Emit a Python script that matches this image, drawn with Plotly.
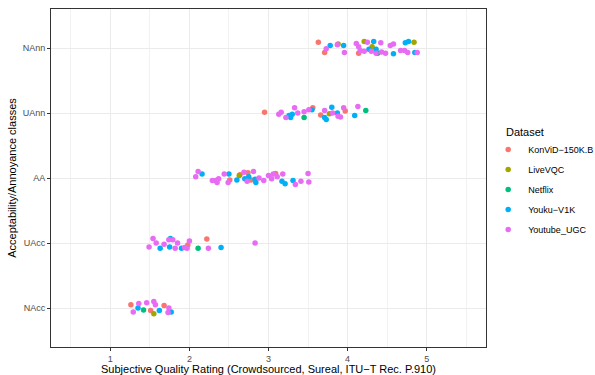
import plotly.graph_objects as go

# Category labels (bottom to top)
class_labels = ["NAcc", "UAcc", "AA", "UAnn", "NAnn"]
datasets = ["KonViD−150K.B", "LiveVQC", "Netflix", "Youku−V1K", "Youtube_UGC"]
colors = ["#F8766D", "#A3A500", "#00BF7D", "#00B0F6", "#E76BF3"]

# Each point: class label, rating, vertical jitter, dataset index
pt_class = (
    ["NAnn"] * 36 + ["UAnn"] * 29 + ["AA"] * 38 + ["UAcc"] * 21 + ["NAcc"] * 15
)
pt_rating = [
    # NAnn
    3.63, 3.71, 3.73, 3.78, 3.87, 3.88, 3.95, 3.96, 4.11, 4.14, 4.14, 4.16,
    4.21, 4.25, 4.21, 4.27, 4.31, 4.33, 4.30, 4.36, 4.36, 4.38, 4.42, 4.43,
    4.48, 4.54, 4.58, 4.58, 4.67, 4.72, 4.73, 4.77, 4.76, 4.84, 4.85, 4.88,
    # UAnn
    2.95, 3.13, 3.16, 3.22, 3.26, 3.28, 3.30, 3.33, 3.37, 3.45, 3.45, 3.51,
    3.56, 3.55, 3.66, 3.71, 3.71, 3.73, 3.77, 3.80, 3.81, 3.87, 3.88, 3.91,
    3.95, 3.97, 4.09, 4.13, 4.23,
    # AA
    2.08, 2.11, 2.16, 2.29, 2.33, 2.35, 2.37, 2.44, 2.49, 2.50, 2.51, 2.60,
    2.63, 2.64, 2.69, 2.70, 2.73, 2.74, 2.75, 2.78, 2.81, 2.84, 2.83, 2.88,
    2.94, 3.00, 3.04, 3.06, 3.09, 3.11, 3.18, 3.17, 3.21, 3.31, 3.34, 3.41,
    3.50, 3.51,
    # UAcc
    1.49, 1.54, 1.58, 1.63, 1.68, 1.74, 1.76, 1.75, 1.79, 1.82, 1.85, 1.90,
    1.94, 1.97, 1.98, 2.00, 2.11, 2.22, 2.24, 2.40, 2.83,
    # NAcc
    1.26, 1.29, 1.35, 1.36, 1.42, 1.46, 1.51, 1.55, 1.57, 1.55, 1.62, 1.68,
    1.74, 1.73, 1.77,
]
pt_jitter = [
    # NAnn
    0.09, -0.07, -0.01, 0.04, 0.05, 0.06, 0.04, -0.07, 0.07, 0.02, -0.08, -0.04,
    0.10, 0.09, -0.05, -0.02, 0.02, 0.10, -0.05, -0.02, -0.08, -0.08, 0.08, -0.06,
    -0.08, 0.04, 0.06, -0.09, -0.04, -0.04, 0.08, 0.10, -0.07, 0.09, -0.07, -0.07,
    # UAnn
    0.01, -0.02, 0.01, -0.07, -0.04, -0.07, -0.02, 0.08, 0.00, 0.02, -0.07, 0.05,
    0.08, 0.05, -0.03, 0.04, -0.07, -0.10, -0.01, 0.09, 0.00, 0.00, -0.05, -0.06,
    0.08, 0.03, -0.04, 0.10, 0.04,
    # AA
    0.02, 0.10, 0.06, -0.04, -0.04, -0.07, -0.01, 0.06, -0.07, 0.06, -0.03, -0.03,
    0.04, 0.05, 0.09, -0.01, -0.05, 0.08, 0.02, -0.03, 0.10, -0.07, -0.02, 0.00,
    -0.04, 0.04, -0.01, 0.06, 0.07, 0.02, 0.06, -0.05, -0.09, -0.04, -0.10, -0.05,
    0.07, -0.06,
    # UAcc
    -0.06, 0.07, 0.00, -0.08, -0.02, 0.05, 0.07, -0.06, 0.05, -0.08, 0.00, -0.08,
    -0.07, -0.08, -0.03, 0.03, -0.08, 0.06, -0.08, -0.07, 0.00,
    # NAcc
    0.05, -0.06, 0.00, 0.07, -0.03, 0.08, -0.04, 0.10, 0.05, -0.09, -0.04, 0.04,
    0.00, -0.07, -0.06,
]
# 0=KonViD, 1=LiveVQC, 2=Netflix, 3=Youku, 4=Youtube_UGC
pt_dataset = [
    # NAnn
    0, 0, 4, 3, 4, 1, 3, 4, 4, 4, 0, 4,
    1, 4, 4, 3, 1, 3, 4, 3, 4, 2, 4, 4,
    4, 4, 4, 3, 4, 4, 3, 3, 4, 1, 3, 4,
    # UAnn
    0, 4, 4, 4, 3, 3, 3, 4, 4, 4, 2, 4,
    0, 3, 0, 4, 3, 3, 1, 3, 4, 3, 4, 4,
    4, 0, 3, 4, 2,
    # AA
    4, 4, 3, 4, 4, 4, 4, 4, 4, 3, 0, 3,
    1, 0, 4, 3, 4, 0, 3, 0, 4, 3, 3, 4,
    4, 4, 4, 4, 0, 4, 4, 3, 3, 3, 4, 4,
    4, 4,
    # UAcc
    4, 4, 4, 3, 4, 4, 3, 3, 4, 4, 4, 3,
    4, 4, 0, 4, 2, 0, 4, 3, 4,
    # NAcc
    0, 4, 3, 4, 2, 4, 0, 4, 4, 1, 3, 0,
    4, 4, 3,
]

x_ticks = [1, 2, 3, 4, 5]
legend_title = "Dataset"

fig = go.Figure()
for di, (name, col) in enumerate(zip(datasets, colors)):
    xs, ys = [], []
    for c, r, j, d in zip(pt_class, pt_rating, pt_jitter, pt_dataset):
        if d == di:
            xs.append(r)
            ys.append(class_labels.index(c) + 1 + j)
    fig.add_trace(go.Scatter(
        x=xs, y=ys, mode="markers", name=name, legendgroup=name,
        marker=dict(color=col, size=5.5, line=dict(width=0)),
    ))

font = "Liberation Sans, Arial, sans-serif"
fig.update_layout(
    width=595, height=375,
    margin=dict(l=51, r=109, t=9, b=28, autoexpand=False),
    paper_bgcolor="white", plot_bgcolor="white",
    font=dict(family=font, color="#000000"),
    legend=dict(
        font=dict(size=9, color="#000000"),
        x=1.005, xanchor="left", y=0.466, yanchor="middle",
        tracegroupgap=1, itemsizing="trace",
    ),
    showlegend=True,
)
fig.add_annotation(
    text=legend_title, xref="paper", yref="paper", x=1.041, y=0.636,
    xanchor="left", yanchor="middle", showarrow=False,
    font=dict(size=11, color="#000000", family=font),
)
fig.update_xaxes(
    range=[0.25, 5.75], tickvals=x_ticks, ticktext=[str(t) for t in x_ticks],
    showgrid=True, gridcolor="#EBEBEB", gridwidth=1,
    minor=dict(tick0=0, dtick=0.5, showgrid=True, gridcolor="#F2F2F2", gridwidth=0.6),
    zeroline=False, automargin=False,
    showline=True, linecolor="#333333", linewidth=1, mirror=True,
    ticks="outside", ticklen=3, tickcolor="#333333",
    tickfont=dict(size=9, color="#4D4D4D"),
    title=dict(text="Subjective Quality Rating (Crowdsourced, Sureal, ITU−T Rec. P.910)",
               font=dict(size=11, color="#000000"), standoff=2),
)
fig.update_yaxes(
    range=[0.4, 5.6], tickvals=[1, 2, 3, 4, 5], ticktext=class_labels,
    showgrid=True, gridcolor="#EBEBEB", gridwidth=1,
    zeroline=False, automargin=False,
    showline=True, linecolor="#333333", linewidth=1, mirror=True,
    ticks="outside", ticklen=3, tickcolor="#333333",
    tickfont=dict(size=9, color="#4D4D4D"),
    title=dict(text="Acceptability/Annoyance classes",
               font=dict(size=11, color="#000000"), standoff=3),
)

fig.write_html("out.html")
